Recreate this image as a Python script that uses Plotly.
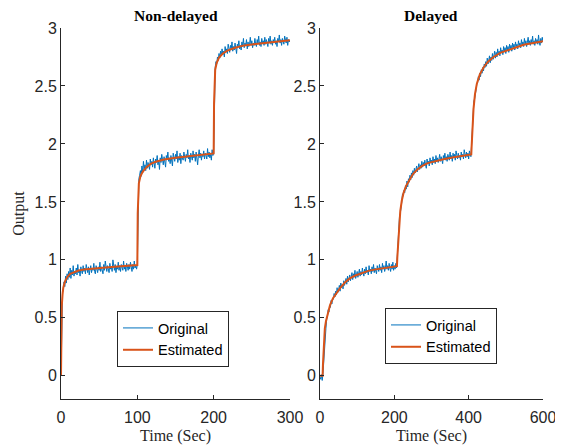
import plotly.graph_objects as go

# ---------------- Data ----------------
# Non-delayed: original (noisy) samples, t = 0..300 step 1
t_nd = list(range(0, 301, 1))
orig_nd = [
    0.00, 0.58, 0.72, 0.74, 0.81, 0.77, 0.86, 0.80, 0.88, 0.83,
    0.90, 0.85, 0.93, 0.84, 0.91, 0.87, 0.95, 0.86, 0.90, 0.88,
    0.93, 0.87, 0.96, 0.89, 0.91, 0.86, 0.94, 0.90, 0.88, 0.95,
    0.90, 0.93, 0.88, 0.96, 0.91, 0.89, 0.94, 0.87, 0.92, 0.95,
    0.89, 0.93, 0.91, 0.97, 0.90, 0.88, 0.95, 0.92, 0.89, 0.94,
    0.91, 0.98, 0.90, 0.94, 0.92, 0.88, 0.96, 0.91, 0.99, 0.92,
    0.90, 0.95, 0.93, 0.89, 0.97, 0.92, 0.94, 0.90, 1.00, 0.93,
    0.91, 0.96, 0.89, 0.94, 0.92, 0.98, 0.91, 0.95, 0.90, 0.96,
    0.93, 0.91, 0.99, 0.92, 0.95, 0.90, 0.97, 0.93, 0.91, 0.96,
    0.92, 0.98, 0.93, 0.90, 0.96, 0.92, 0.99, 0.93, 0.95, 0.92,
    0.96, 1.62, 1.70, 1.73, 1.77, 1.72, 1.81, 1.75, 1.85, 1.78,
    1.82, 1.77, 1.86, 1.79, 1.84, 1.81, 1.78, 1.87, 1.82, 1.85,
    1.80, 1.88, 1.83, 1.79, 1.87, 1.84, 1.90, 1.82, 1.86, 1.78,
    1.88, 1.84, 1.91, 1.85, 1.82, 1.89, 1.86, 1.80, 1.90, 1.87,
    1.93, 1.85, 1.88, 1.83, 1.90, 1.86, 1.81, 1.92, 1.88, 1.85,
    1.91, 1.87, 1.94, 1.84, 1.89, 1.86, 1.92, 1.83, 1.90, 1.88,
    1.86, 1.93, 1.89, 1.85, 1.91, 1.88, 1.95, 1.87, 1.90, 1.84,
    1.92, 1.89, 1.86, 1.94, 1.88, 1.91, 1.85, 1.93, 1.89, 1.82,
    1.90, 1.95, 1.88, 1.92, 1.86, 1.91, 1.89, 1.94, 1.87, 1.92,
    1.90, 1.87, 1.96, 1.89, 1.93, 1.88, 1.91, 1.86, 1.95, 1.90,
    1.92, 2.60, 2.66, 2.71, 2.69, 2.75, 2.72, 2.78, 2.74, 2.80,
    2.76, 2.82, 2.77, 2.80, 2.75, 2.84, 2.79, 2.82, 2.78, 2.86,
    2.81, 2.79, 2.85, 2.82, 2.88, 2.80, 2.84, 2.81, 2.87, 2.83,
    2.78, 2.86, 2.84, 2.89, 2.82, 2.85, 2.81, 2.88, 2.84, 2.91,
    2.83, 2.87, 2.85, 2.90, 2.82, 2.88, 2.84, 2.86, 2.92, 2.85,
    2.89, 2.83, 2.87, 2.85, 2.91, 2.86, 2.84, 2.90, 2.87, 2.93,
    2.85, 2.88, 2.84, 2.91, 2.87, 2.89, 2.85, 2.92, 2.86, 2.90,
    2.88, 2.84, 2.91, 2.87, 2.93, 2.86, 2.89, 2.85, 2.90, 2.88,
    2.92, 2.86, 2.89, 2.84, 2.91, 2.88, 2.94, 2.87, 2.90, 2.85,
    2.91, 2.88, 2.86, 2.93, 2.89, 2.87, 2.92, 2.85, 2.90, 2.88,
    2.89,
]
# Non-delayed: estimated model response
t_nd_est = [0, 0.5, 1, 2, 3, 5, 8, 12, 17, 23, 30, 40, 55, 70, 85, 100,
            100.5, 101, 102, 104, 107, 112, 118, 125, 135, 150, 170, 185, 200,
            200.5, 201, 202, 204, 207, 212, 218, 228, 240, 255, 270, 285, 300]
est_nd = [0.0, 0.45, 0.60, 0.70, 0.76, 0.81, 0.85, 0.88, 0.895, 0.908, 0.916, 0.925, 0.933, 0.94, 0.948, 0.955,
          1.40, 1.58, 1.66, 1.72, 1.76, 1.80, 1.83, 1.848, 1.865, 1.88, 1.897, 1.908, 1.918,
          2.35, 2.55, 2.64, 2.70, 2.745, 2.78, 2.805, 2.83, 2.85, 2.862, 2.872, 2.885, 2.895]

# Delayed: original (noisy) samples, t = 0..600 step 2
t_d = list(range(0, 601, 2))
orig_d = [
    -0.01, -0.03, 0.01, -0.04, 0.02, 0.15, 0.24, 0.39, 0.41, 0.49,
    0.51, 0.57, 0.55, 0.60, 0.59, 0.65, 0.62, 0.67, 0.66, 0.71,
    0.68, 0.73, 0.70, 0.76, 0.72, 0.74, 0.78, 0.73, 0.80, 0.76,
    0.79, 0.75, 0.82, 0.78, 0.81, 0.84, 0.79, 0.86, 0.81, 0.83,
    0.87, 0.82, 0.85, 0.89, 0.83, 0.88, 0.85, 0.91, 0.84, 0.87,
    0.90, 0.85, 0.88, 0.92, 0.86, 0.90, 0.87, 0.93, 0.89, 0.86,
    0.92, 0.88, 0.94, 0.89, 0.91, 0.87, 0.95, 0.90, 0.92, 0.88,
    0.94, 0.90, 0.96, 0.89, 0.93, 0.91, 0.88, 0.95, 0.92, 0.90,
    0.96, 0.91, 0.94, 0.89, 0.97, 0.92, 0.95, 0.90, 0.93, 0.99,
    0.92, 0.95, 0.91, 0.97, 0.93, 0.90, 0.96, 0.92, 0.98, 0.91,
    0.95, 0.92, 0.97, 0.93, 1.03, 1.17, 1.24, 1.38, 1.40, 1.49,
    1.50, 1.57, 1.55, 1.60, 1.58, 1.64, 1.61, 1.68, 1.63, 1.70,
    1.67, 1.73, 1.69, 1.75, 1.71, 1.77, 1.73, 1.79, 1.75, 1.78,
    1.81, 1.76, 1.80, 1.83, 1.78, 1.82, 1.79, 1.85, 1.80, 1.84,
    1.81, 1.86, 1.82, 1.79, 1.87, 1.83, 1.85, 1.81, 1.88, 1.84,
    1.86, 1.82, 1.89, 1.84, 1.87, 1.83, 1.90, 1.85, 1.88, 1.84,
    1.87, 1.91, 1.85, 1.89, 1.86, 1.83, 1.90, 1.87, 1.92, 1.86,
    1.89, 1.85, 1.91, 1.88, 1.86, 1.93, 1.87, 1.90, 1.85, 1.92,
    1.88, 1.91, 1.86, 1.94, 1.89, 1.87, 1.92, 1.88, 1.90, 1.86,
    1.93, 1.89, 1.91, 1.87, 1.95, 1.90, 1.88, 1.93, 1.89, 1.92,
    1.87, 1.94, 1.90, 1.89, 2.00, 2.14, 2.22, 2.37, 2.39, 2.47,
    2.47, 2.52, 2.53, 2.58, 2.55, 2.61, 2.58, 2.64, 2.61, 2.66,
    2.63, 2.69, 2.66, 2.71, 2.67, 2.74, 2.69, 2.72, 2.76, 2.70,
    2.75, 2.72, 2.78, 2.73, 2.76, 2.80, 2.74, 2.79, 2.75, 2.82,
    2.77, 2.80, 2.76, 2.83, 2.79, 2.81, 2.77, 2.84, 2.80, 2.83,
    2.78, 2.85, 2.81, 2.84, 2.79, 2.86, 2.82, 2.85, 2.80, 2.87,
    2.83, 2.86, 2.81, 2.88, 2.84, 2.86, 2.82, 2.89, 2.85, 2.87,
    2.83, 2.90, 2.85, 2.88, 2.84, 2.91, 2.86, 2.89, 2.84, 2.87,
    2.92, 2.86, 2.89, 2.85, 2.90, 2.87, 2.93, 2.86, 2.89, 2.85,
    2.91, 2.87, 2.90, 2.86, 2.94, 2.88, 2.85, 2.91, 2.87, 2.92,
    2.88,
]
# Delayed: estimated model response
t_d_est = [0, 7, 8, 9, 11, 13, 16, 20, 27, 35, 45, 55, 67, 80, 95, 110, 130, 150, 175, 207,
           208, 210, 213, 216, 220, 225, 232, 240, 250, 262, 275, 290, 310, 335, 360, 385, 407,
           408, 410, 413, 417, 422, 430, 440, 452, 467, 485, 505, 525, 548, 572, 600]
est_d = [0.0, 0.0, 0.10, 0.19, 0.33, 0.41, 0.47, 0.53, 0.61, 0.67, 0.72, 0.76, 0.805, 0.84, 0.865, 0.885, 0.905, 0.918, 0.93, 0.945,
         1.02, 1.15, 1.30, 1.42, 1.51, 1.58, 1.64, 1.69, 1.74, 1.78, 1.81, 1.835, 1.853, 1.87, 1.885, 1.897, 1.91,
         1.98, 2.12, 2.30, 2.43, 2.52, 2.60, 2.66, 2.71, 2.75, 2.785, 2.81, 2.83, 2.855, 2.87, 2.885]

titles = ["Non-delayed", "Delayed"]
series_names = ["Original", "Estimated"]
y_ticks = [0, 0.5, 1, 1.5, 2, 2.5, 3]
y_tick_text = ["0", "0.5", "1", "1.5", "2", "2.5", "3"]
x_ticks_nd = [0, 100, 200, 300]
x_ticks_d = [0, 200, 400, 600]

# ---------------- Styling ----------------
BLUE = "#0072BD"
ORANGE = "#D95319"
AX = "#262626"
SANS = "Liberation Sans, Arial, Helvetica, sans-serif"
SERIF = "Liberation Serif, Times New Roman, serif"

fig = go.Figure()
fig.add_trace(go.Scatter(x=t_nd, y=orig_nd, mode="lines", name=series_names[0],
                         line=dict(color=BLUE, width=1), xaxis="x", yaxis="y", legend="legend"))
fig.add_trace(go.Scatter(x=t_nd_est, y=est_nd, mode="lines", name=series_names[1],
                         line=dict(color=ORANGE, width=2), xaxis="x", yaxis="y", legend="legend"))
fig.add_trace(go.Scatter(x=t_d, y=orig_d, mode="lines", name=series_names[0],
                         line=dict(color=BLUE, width=1), xaxis="x2", yaxis="y2", legend="legend2"))
fig.add_trace(go.Scatter(x=t_d_est, y=est_d, mode="lines", name=series_names[1],
                         line=dict(color=ORANGE, width=2), xaxis="x2", yaxis="y2", legend="legend2"))

# page body has an 8px margin; figure is laid out in its own pixel frame
OFF = 8
W, H = 563 - OFF, 448 - OFF
ml = 61 - OFF
mt = 28 - OFF
mr = W - (543 - OFF)
mb = H - (399 - OFF)
pw = W - ml - mr
ph = H - mt - mb
d1 = [0, (290 - 61) / pw]
d2 = [(320 - 61) / pw, 1]

axis_common = dict(showgrid=False, zeroline=False, showline=True, linecolor=AX, linewidth=1,
                   ticks="inside", ticklen=4, tickcolor=AX, mirror=False, automargin=False,
                   tickfont=dict(family=SANS, size=16, color=AX))

legend_common = dict(bgcolor="white", bordercolor=AX, borderwidth=1,
                     font=dict(family=SANS, size=14.5, color="black"),
                     xanchor="left", yanchor="top", tracegroupgap=0,
                     itemwidth=30)

title_font = dict(family=SERIF, size=16, color=AX)

fig.update_layout(
    width=W, height=H,
    margin=dict(l=ml, r=mr, t=mt, b=mb, autoexpand=False),
    plot_bgcolor="white", paper_bgcolor="white",
    xaxis=dict(domain=d1, range=[0, 300], tickvals=x_ticks_nd, anchor="y", ticklabelstandoff=4, **axis_common,
               title=dict(text="Time (Sec)", font=title_font, standoff=4)),
    yaxis=dict(domain=[0, 1], range=[-0.2, 3], tickvals=y_ticks, ticktext=y_tick_text, anchor="x", **axis_common,
               title=dict(text="Output", font=title_font, standoff=5)),
    xaxis2=dict(domain=d2, range=[0, 600], tickvals=x_ticks_d, anchor="y2", ticklabelstandoff=4, **axis_common,
                title=dict(text="Time (Sec)", font=title_font, standoff=4)),
    yaxis2=dict(domain=[0, 1], range=[-0.2, 3], tickvals=y_ticks, ticktext=y_tick_text, anchor="x2", **axis_common),
    legend=dict(x=(117 - 61) / pw, y=(399 - 311) / ph, **legend_common),
    legend2=dict(x=(385 - 61) / pw, y=(399 - 308) / ph, **legend_common),
    showlegend=True,
)

for i, dom in enumerate([d1, d2]):
    fig.add_annotation(text="<b>" + titles[i] + "</b>", xref="paper", yref="paper",
                       x=(dom[0] + dom[1]) / 2, y=1, yshift=13, showarrow=False,
                       xanchor="center", yanchor="middle",
                       font=dict(family=SERIF, size=15.5, color="black"))

fig.write_html("out.html")
